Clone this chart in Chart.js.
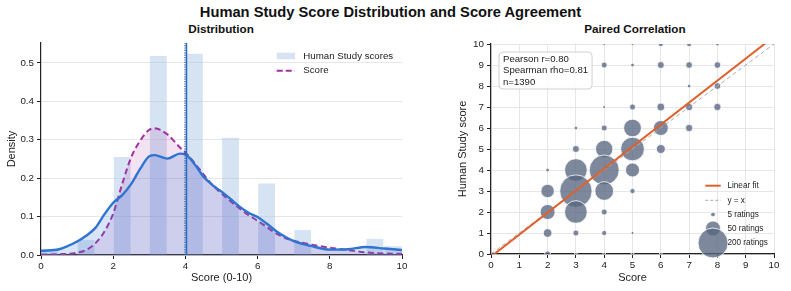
<!DOCTYPE html>
<html>
<head>
<meta charset="utf-8">
<script src="https://cdn.jsdelivr.net/npm/chart.js@4.4.1/dist/chart.umd.min.js"></script>
<style>
  body { margin: 0; background: #fff; width: 791px; height: 291px; overflow: hidden; position: relative;
         font-family: "Liberation Sans", Arial, sans-serif; color: #111; }
  #title { position: absolute; left: 0; width: 781px; top: 4px; text-align: center; font-weight: bold; font-size: 14.7px; }
  .sub { position: absolute; top: 22px; width: 200px; text-align: center; font-weight: bold; font-size: 11.7px; }
  canvas { position: absolute; top: 0; }
</style>
</head>
<body>
<div id="title">Human Study Score Distribution and Score Agreement</div>
<div class="sub" style="left:121px">Distribution</div>
<div class="sub" style="left:535px">Paired Correlation</div>
<canvas id="dist" width="410" height="291" style="left:0"></canvas>
<canvas id="corr" width="381" height="291" style="left:410px"></canvas>
<script>
const FONT = '"Liberation Sans", Arial, sans-serif';
Chart.defaults.font.family = FONT;
Chart.defaults.color = '#222';

// --- left panel: histogram of human scores (bins 0.5 wide, density) ---
const binStarts  = [0, 1, 2, 3, 4, 5, 6, 7, 9, 9.5];
const binDensity = [0.014, 0.039, 0.255, 0.518, 0.524, 0.305, 0.186, 0.065, 0.042, 0.023];
const binWidth = 0.5;

// KDE curves
const kdeX     = [0, 0.5, 1, 1.25, 1.5, 1.75, 2, 2.25, 2.5, 2.75, 3, 3.15, 3.5, 3.85, 4, 4.25, 4.5, 4.75,
                  5, 5.25, 5.5, 5.75, 6, 6.25, 6.5, 6.75, 7, 7.5, 8, 8.5, 9, 9.5, 10];
const humanKde = [0.011, 0.015, 0.035, 0.05, 0.07, 0.105, 0.136, 0.156, 0.185, 0.225, 0.257, 0.26, 0.251, 0.264, 0.262, 0.237, 0.204, 0.182,
                  0.165, 0.146, 0.126, 0.11, 0.099, 0.082, 0.063, 0.048, 0.036, 0.023, 0.014, 0.015, 0.021, 0.017, 0.013];
const scoreKde = [0.001, 0.002, 0.006, 0.013, 0.03, 0.06, 0.108, 0.185, 0.255, 0.298, 0.326, 0.33, 0.314, 0.28, 0.267, 0.24, 0.21, 0.182,
                  0.16, 0.14, 0.121, 0.104, 0.089, 0.073, 0.057, 0.045, 0.037, 0.027, 0.019, 0.013, 0.007, 0.004, 0.003];

const scoreCenter = 3.99;   // dotted marker
const humanCenter = 4.03;   // solid marker
const densityMax = 0.552;
const densityTicks = [0, 0.1, 0.2, 0.3, 0.4, 0.5];

// --- right panel: paired counts ---
const cellScore = [3, 4, 5, 6, 7, 8,   4, 5, 6, 7, 8,   7, 8,   4, 5, 6, 7, 8,   3, 4, 5, 6, 7,
                   3, 4, 5, 6,   2, 3, 4, 5,   2, 3, 4, 5,   2, 3, 4,   2, 3, 4, 5,   2, 3, 4, 5, 6];
const cellHuman = [10, 10, 10, 10, 10, 10,   9, 9, 9, 9, 9,   8, 8,   7, 7, 7, 7, 7,   6, 6, 6, 6, 6,
                   5, 5, 5, 5,   4, 4, 4, 4,   3, 3, 3, 3,   2, 2, 2,   1, 1, 1, 1,   0, 0, 0, 0, 0];
const cellCount = [1, 2, 2, 6, 6, 3,   8, 3, 11, 10, 10,   3, 10,   2, 8, 14, 12, 12,   3, 8, 70, 50, 12,
                   11, 67, 125, 18,   3, 114, 200, 44,   40, 233, 78, 6,   50, 114, 8,   17, 8, 6, 2,   8, 2, 2, 2, 2];

const fitSlope = 1.048;
const fitIntercept = -0.126;
const pearsonR = 0.80;
const spearmanRho = 0.81;
const nRatings = 1390;
const legendCounts = [5, 50, 200];

// colours
const barColor    = 'rgba(174,199,232,0.5)';
const humanColor  = '#2f74d0';
const scoreColor  = '#a2309f';
const bubbleColor = 'rgba(88,102,128,0.78)';
const fitColor    = '#e0602c';
const gridColor   = '#e6e6e6';
const spineColor  = '#222';

const bubbleR = (n) => 1.06 * Math.sqrt(n);

// legend for the distribution panel
const distLegend = {
  id: 'distLegend',
  afterDraw(chart) {
    const { ctx, chartArea: a } = chart;
    const x0 = a.right - 125.3;
    ctx.save();
    ctx.fillStyle = barColor;
    ctx.fillRect(x0, a.top + 9.7, 18.3, 6.6);
    ctx.strokeStyle = scoreColor;
    ctx.lineWidth = 2;
    ctx.setLineDash([6, 3]);
    ctx.beginPath();
    ctx.moveTo(x0, a.top + 27.7);
    ctx.lineTo(x0 + 18.3, a.top + 27.7);
    ctx.stroke();
    ctx.setLineDash([]);
    ctx.fillStyle = '#222';
    ctx.font = '9.7px ' + FONT;
    ctx.textBaseline = 'middle';
    ctx.fillText('Human Study scores', x0 + 26.6, a.top + 13);
    ctx.fillText('Score', x0 + 26.6, a.top + 27.7);
    ctx.restore();
  }
};

// stats box + legend for the correlation panel
const corrExtras = {
  id: 'corrExtras',
  afterDraw(chart) {
    const { ctx, chartArea: a } = chart;
    ctx.save();
    const statsLines = [
      `Pearson r=${pearsonR.toFixed(2)}`,
      `Spearman rho=${spearmanRho.toFixed(2)}`,
      `n=${nRatings}`
    ];
    ctx.font = '9.6px ' + FONT;
    const w = Math.max(...statsLines.map(t => ctx.measureText(t).width)) + 8;
    const bx = a.left + 8, by = a.top + 8, bh = 37;
    ctx.fillStyle = 'rgba(255,255,255,0.88)';
    ctx.strokeStyle = '#d0d0d0';
    ctx.lineWidth = 1;
    ctx.beginPath();
    if (ctx.roundRect) ctx.roundRect(bx, by, w, bh, 4); else ctx.rect(bx, by, w, bh);
    ctx.fill();
    ctx.stroke();
    ctx.fillStyle = '#222';
    ctx.textBaseline = 'middle';
    statsLines.forEach((t, i) => ctx.fillText(t, bx + 4, by + 7.5 + i * 11.3));

    // legend
    const mx = a.right - 61, tx = mx + 14.4;
    const rows = [-68.3, -53.7, -39.5, -25.5, -11].map(d => a.bottom + d);
    ctx.strokeStyle = fitColor;
    ctx.lineWidth = 2;
    ctx.beginPath(); ctx.moveTo(mx - 7.7, rows[0]); ctx.lineTo(mx + 7.7, rows[0]); ctx.stroke();
    ctx.strokeStyle = '#aaaaaa';
    ctx.lineWidth = 1;
    ctx.setLineDash([3, 2]);
    ctx.beginPath(); ctx.moveTo(mx - 7.7, rows[1]); ctx.lineTo(mx + 7.7, rows[1]); ctx.stroke();
    ctx.setLineDash([]);
    legendCounts.forEach((n, k) => {
      ctx.beginPath();
      ctx.arc(mx, rows[2 + k], bubbleR(n), 0, Math.PI * 2);
      ctx.fillStyle = bubbleColor;
      ctx.fill();
      ctx.strokeStyle = '#fff';
      ctx.lineWidth = 0.8;
      ctx.stroke();
    });
    ctx.fillStyle = '#222';
    ctx.font = '8.2px ' + FONT;
    const labels = ['Linear fit', 'y = x', ...legendCounts.map(n => `${n} ratings`)];
    labels.forEach((t, i) => ctx.fillText(t, tx, rows[i]));
    ctx.restore();
  }
};

// Distribution panel
new Chart(document.getElementById('dist'), {
  type: 'bar',
  data: {
    datasets: [
      {
        type: 'line',
        data: [{ x: humanCenter, y: 0 }, { x: humanCenter, y: densityMax }],
        borderColor: '#2a6cc4', borderWidth: 1.5, pointRadius: 0, order: 1
      },
      {
        type: 'line',
        data: [{ x: scoreCenter, y: 0 }, { x: scoreCenter, y: densityMax }],
        borderColor: '#1c4f9c', borderWidth: 1.2, borderDash: [1.2, 1.2], pointRadius: 0, order: 1
      },
      {
        type: 'line',
        data: kdeX.map((x, i) => ({ x, y: humanKde[i] })),
        borderColor: humanColor, borderWidth: 2.4, pointRadius: 0,
        fill: 'origin', backgroundColor: 'rgba(58,123,213,0.2)',
        cubicInterpolationMode: 'monotone', order: 2
      },
      {
        type: 'line',
        data: kdeX.map((x, i) => ({ x, y: scoreKde[i] })),
        borderColor: scoreColor, borderWidth: 2, borderDash: [6, 3.5], pointRadius: 0,
        fill: 'origin', backgroundColor: 'rgba(160,50,160,0.14)',
        cubicInterpolationMode: 'monotone', order: 3
      },
      {
        type: 'bar',
        data: binStarts.map((b, i) => ({ x: b + binWidth / 2, y: binDensity[i] })),
        backgroundColor: barColor, borderWidth: 0,
        barPercentage: 0.93, categoryPercentage: 1, order: 5
      }
    ]
  },
  options: {
    responsive: false,
    animation: false,
    layout: { padding: { left: 0, top: 43, right: 8, bottom: 0 } },
    plugins: { legend: { display: false }, tooltip: { enabled: false } },
    scales: {
      x: {
        type: 'linear', min: 0, max: 10, offset: false,
        grid: { drawOnChartArea: false, drawTicks: true, tickLength: 4, tickColor: spineColor, offset: false },
        border: { color: spineColor, width: 1.2 },
        ticks: { stepSize: 2, font: { size: 9.8 }, padding: 1, maxRotation: 0 },
        title: { display: true, text: 'Score (0-10)', font: { size: 11 }, padding: { top: 0, bottom: 6 } },
        afterFit: (s) => { s.height = 36; }
      },
      y: {
        type: 'linear', min: 0, max: densityMax,
        grid: { color: gridColor, lineWidth: 1, tickLength: 4, tickColor: spineColor },
        border: { color: spineColor, width: 1.2 },
        ticks: { font: { size: 9.8 }, padding: 3, callback: (v) => v.toFixed(1) },
        afterBuildTicks: (s) => { s.ticks = densityTicks.map(v => ({ value: v })); },
        title: { display: true, text: 'Density', font: { size: 11 }, padding: { top: 5, bottom: 0 } },
        afterFit: (s) => { s.width = 41; }
      }
    }
  },
  plugins: [distLegend]
});

// Paired correlation panel
new Chart(document.getElementById('corr'), {
  type: 'bubble',
  data: {
    datasets: [
      {
        type: 'line',
        data: [{ x: 0, y: fitIntercept }, { x: 10, y: fitIntercept + fitSlope * 10 }],
        borderColor: fitColor, borderWidth: 2, pointRadius: 0, clip: 0, order: 1
      },
      {
        type: 'line',
        data: [{ x: 0, y: 0 }, { x: 10, y: 10 }],
        borderColor: '#aaaaaa', borderWidth: 1, borderDash: [4, 3], pointRadius: 0, clip: 0, order: 2
      },
      {
        type: 'bubble',
        data: cellScore.map((x, i) => ({ x, y: cellHuman[i], r: bubbleR(cellCount[i]) })),
        backgroundColor: bubbleColor, borderColor: '#ffffff', borderWidth: 0.8,
        clip: 0, order: 3
      }
    ]
  },
  options: {
    responsive: false,
    animation: false,
    layout: { padding: { left: 40, top: 44, right: 12, bottom: 0 } },
    plugins: { legend: { display: false }, tooltip: { enabled: false } },
    scales: {
      x: {
        type: 'linear', min: 0, max: 10,
        grid: { color: gridColor, lineWidth: 1, tickLength: 4, tickColor: spineColor },
        border: { color: spineColor, width: 1.2 },
        ticks: { stepSize: 1, font: { size: 9.8 }, padding: 1, maxRotation: 0 },
        title: { display: true, text: 'Score', font: { size: 11 }, padding: { top: 0, bottom: 6 } },
        afterFit: (s) => { s.height = 37; }
      },
      y: {
        type: 'linear', min: 0, max: 10,
        grid: { color: gridColor, lineWidth: 1, tickLength: 4, tickColor: spineColor },
        border: { color: spineColor, width: 1.2 },
        ticks: { stepSize: 1, font: { size: 9.8 }, padding: 3 },
        title: { display: true, text: 'Human Study score', font: { size: 11 }, padding: { top: 6.7, bottom: 0 } },
        afterFit: (s) => { s.width = 41; }
      }
    }
  },
  plugins: [corrExtras]
});
</script>
</body>
</html>
